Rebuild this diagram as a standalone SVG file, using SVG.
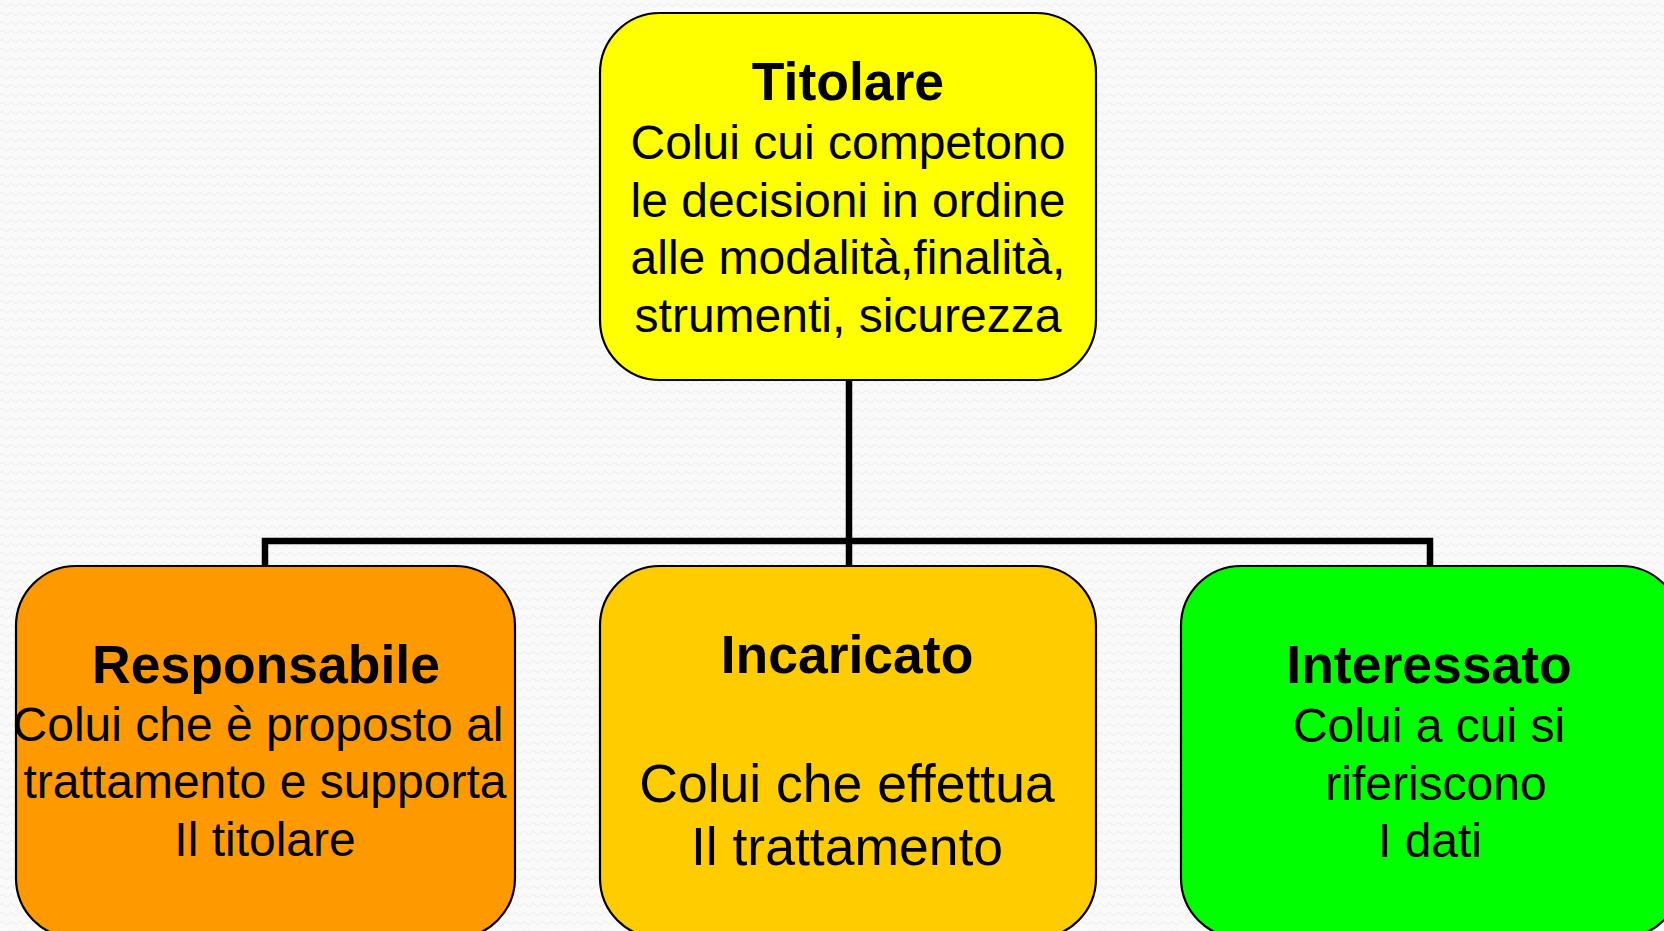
<svg xmlns="http://www.w3.org/2000/svg" width="1664" height="931" viewBox="0 0 1664 931">
<defs>
<pattern id="bg" width="9" height="9" patternUnits="userSpaceOnUse">
<rect width="9" height="9" fill="#fafafa"/>
<path d="M0 5 Q2.25 2 4.5 5 T9 5" fill="none" stroke="#efefef" stroke-width="1.2"/>
</pattern>
</defs>
<style>
.box{stroke:#000;stroke-width:2.2}
.t{font-family:"Liberation Sans",Arial,sans-serif;font-weight:bold;text-anchor:middle;fill:#000;font-size:53.5px}
.b{font-family:"Liberation Sans",Arial,sans-serif;text-anchor:middle;fill:#000;font-size:48px}
.bl{font-family:"Liberation Sans",Arial,sans-serif;text-anchor:middle;fill:#000;font-size:53.5px}
.con{fill:none;stroke:#000;stroke-width:6.5}
</style>
<rect width="1664" height="931" fill="url(#bg)"/>
<g id="connectors">
<path class="con" d="M849 380 V566"/>
<path class="con" d="M265 566 V541 H1430 V566"/>
</g>
<g id="titolare">
<rect class="box" x="600" y="13" width="496" height="367" rx="60" fill="#FFFF00"/>
<text class="t" x="848" y="100">Titolare</text>
<text class="b" x="848" y="159">Colui cui competono</text>
<text class="b" x="848" y="217">le decisioni in ordine</text>
<text class="b" x="848" y="274">alle modalità,finalità,</text>
<text class="b" x="848" y="332">strumenti, sicurezza</text>
</g>
<g id="responsabile">
<rect class="box" x="16" y="566" width="499" height="372" rx="60" fill="#FF9900"/>
<text class="t" x="266" y="683">Responsabile</text>
<text class="b" x="258" y="741">Colui che è proposto al</text>
<text class="b" x="265" y="798">trattamento e supporta</text>
<text class="b" x="265" y="856">Il titolare</text>
</g>
<g id="incaricato">
<rect class="box" x="600" y="566" width="496" height="372" rx="60" fill="#FFCC00"/>
<text class="t" x="847" y="673">Incaricato</text>
<text class="bl" x="847" y="802">Colui che effettua</text>
<text class="bl" x="847" y="865">Il trattamento</text>
</g>
<g id="interessato">
<rect class="box" x="1181" y="566" width="500" height="372" rx="60" fill="#00FF00"/>
<text class="t" x="1429" y="683">Interessato</text>
<text class="b" x="1429" y="742">Colui a cui si</text>
<text class="b" x="1436" y="800">riferiscono</text>
<text class="b" x="1430" y="857">I dati</text>
</g>
</svg>
